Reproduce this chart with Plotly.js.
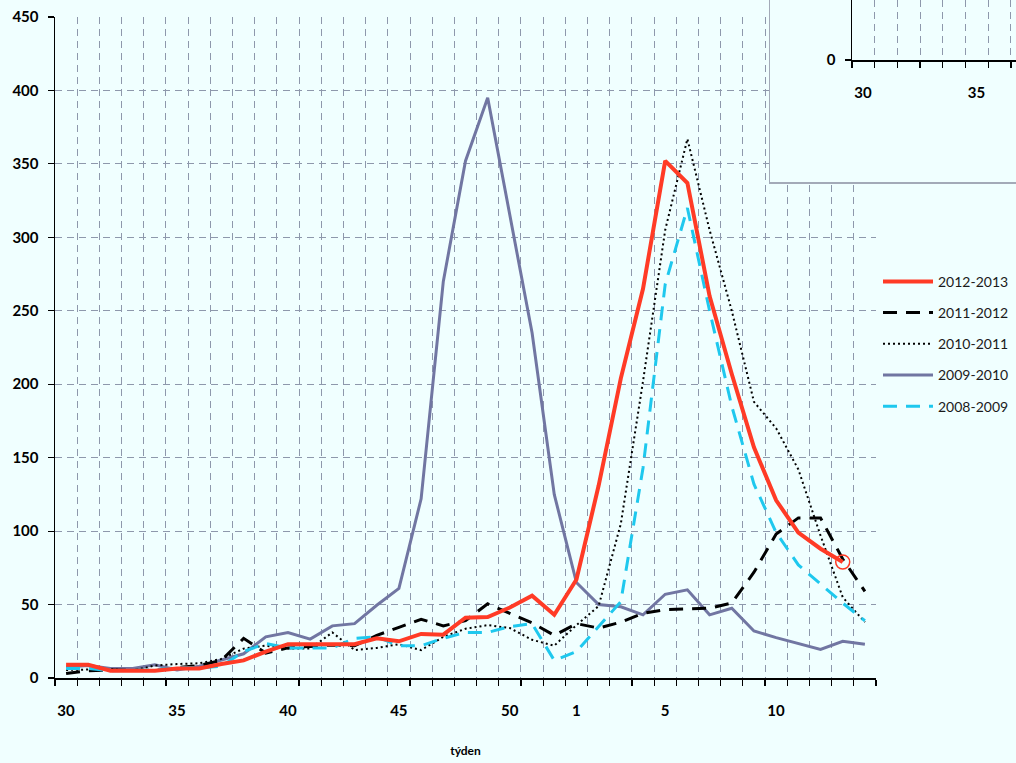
<!DOCTYPE html>
<html>
<head>
<meta charset="utf-8">
<script src="https://cdn.plot.ly/plotly-3.0.1.min.js"></script>
<style>
html,body{margin:0;padding:0;background:#F0FFFF;}
#chart{width:1016px;height:763px;}
</style>
</head>
<body>
<div id="chart"></div>
<script>
// ---- data (weeks 30..52 of one year, then 1..14 of the next) ----
const weeks = [30,31,32,33,34,35,36,37,38,39,40,41,42,43,44,45,46,47,48,49,50,51,52,1,2,3,4,5,6,7,8,9,10,11,12,13,14];
const xTickLabels = ['30','35','40','45','50','1','5','10'];
const insetTickLabels = ['30','35'];
const insetWeeks = [30,31,32,33,34,35,36,37];

const s2012_2013 = [9,9,5,5,5,6.5,6.5,9.5,12,18,23,23,23,23,27,25,30,29.5,41,41.5,48,56,43,67,131,204,265,352,337,260,207,157,121,99,88,79,null];
const s2011_2012 = [3,5,5.5,5,5,7,8.5,12,27,17,20.5,21.5,22.5,22,29,34.5,40,35.5,39,50.5,44,37.5,29,37,34,38,44,46.5,47,47.5,51,72,98,109,109,81,59];
const s2010_2011 = [5.5,6,6,5,8.5,9.5,10,13,20,22,20,20,31,19,20.5,23,19,28,33.5,36,34,26,22,36,49,105,202,305,367,305,250,188,170,142,97,55,38];
const s2009_2010 = [7.5,8.5,6.5,6.5,9,5.5,8,12,16.5,28,31,26.5,35.5,37,49.5,61,122,270,352,395,316,235,125,65,50,48.5,43,57,60,43,47.5,32,27.5,23.5,19.5,25,23];
const s2008_2009 = [6.5,6.5,5,5.5,5.5,7,7,8,18,23.5,20.5,20.5,20.5,27,28,22,22,27,31,31,35,37,12,18,35,52,143,268,320,250,185,132,99,77,64,51,39];

const seriesNames = ['2012-2013','2011-2012','2010-2011','2009-2010','2008-2009'];
const yTickVals = [0,50,100,150,200,250,300,350,400,450];

// ---- helpers ----
const xIdx = weeks.map((w,i)=>i);
const boundaries = weeks.map((w,i)=>i-0.5).concat([weeks.length-0.5]);
const boundaryText = boundaries.map((b,k)=> (k<weeks.length && xTickLabels.indexOf(String(weeks[k]))>=0) ? String(weeks[k]) : '');
const insetBounds = insetWeeks.map((w,i)=>i-0.5);
const insetText = insetBounds.map((b,k)=> insetTickLabels.indexOf(String(insetWeeks[k]))>=0 ? String(insetWeeks[k]) : '');

const BG = '#F0FFFF';
const GRID = '#8E98AC';
const FONT = 'Lato, "Liberation Sans", Arial, sans-serif';
const tickFont = {family:FONT, size:15, color:'#000', weight:'bold'};

const lastRed = s2012_2013.reduce((a,v,i)=> v!=null ? i : a, 0);

const traces = [
  {x:xIdx, y:s2009_2010, name:seriesNames[3], legendgroup:'d', legendrank:4, mode:'lines',
   line:{color:'#7176A2', width:3}},
  {x:xIdx, y:s2011_2012, name:seriesNames[1], legendgroup:'b', legendrank:2, mode:'lines',
   line:{color:'#000000', width:3, dash:'14px,9px'}},
  {x:xIdx, y:s2010_2011, name:seriesNames[2], legendgroup:'c', legendrank:3, mode:'lines',
   line:{color:'#000000', width:2, dash:'2px,3px'}},
  {x:xIdx, y:s2008_2009, name:seriesNames[4], legendgroup:'e', legendrank:5, mode:'lines',
   line:{color:'#1EC8EE', width:3, dash:'14px,9px'}},
  {x:xIdx, y:s2012_2013, name:seriesNames[0], legendgroup:'a', legendrank:1, mode:'lines',
   line:{color:'#FF3B26', width:4}},
  {x:[xIdx[lastRed]], y:[s2012_2013[lastRed]], mode:'markers', showlegend:false, hoverinfo:'skip',
   marker:{symbol:'circle-open', size:14, color:'#FF3B26', line:{width:1.5, color:'#FF3B26'}}},
  // empty traces that create the inset frame and the inset axes
  {x:[null], y:[null], xaxis:'x2', yaxis:'y2', mode:'lines', showlegend:false, hoverinfo:'skip'},
  {x:[null], y:[null], xaxis:'x3', yaxis:'y3', mode:'lines', showlegend:false, hoverinfo:'skip'}
];

const layout = {
  width:1016, height:763,
  paper_bgcolor:BG, plot_bgcolor:BG,
  margin:{l:55, r:0, t:0, b:85},
  showlegend:true,
  legend:{x:0.8564, xanchor:'left', y:0.608, yanchor:'top', bgcolor:'rgba(0,0,0,0)',
          font:{family:FONT, size:14, color:'#1a1a1a'},
          tracegroupgap:10, itemwidth:50},
  xaxis:{domain:[0, 821/961], range:[-0.5, weeks.length-0.5], type:'linear',
         tickmode:'array', tickvals:boundaries, ticktext:boundaryText,
         ticklabelshift:11, ticklabelstandoff:12,
         ticks:'outside', ticklen:6, tickcolor:'#000', tickwidth:1.2,
         showline:true, linecolor:'#000', linewidth:1.5,
         showgrid:true, gridcolor:GRID, gridwidth:1, griddash:'7px,5px',
         zeroline:false, tickfont:tickFont,
         title:{text:'týden', font:{family:FONT, size:12, color:'#000', weight:'bold'}, standoff:29}},
  yaxis:{domain:[0, 661/678], range:[0,450], tickmode:'array', tickvals:yTickVals,
         ticks:'outside', ticklen:6, tickcolor:'#000', tickwidth:1.2, ticklabelstandoff:6,
         showline:true, linecolor:'#000', linewidth:1.5,
         showgrid:true, gridcolor:GRID, gridwidth:1, griddash:'7px,5px',
         zeroline:false, tickfont:tickFont},
  // frame of the inset (covers the main chart)
  xaxis2:{domain:[(770-55)/961, 1], range:[0,1], anchor:'y2', showgrid:false, zeroline:false,
          showticklabels:false, ticks:'', showline:true, linecolor:'#A3AAB8', linewidth:1.5, fixedrange:true},
  yaxis2:{domain:[(678-182)/678, 1], range:[0,1], anchor:'x2', showgrid:false, zeroline:false,
          showticklabels:false, ticks:'', showline:true, linecolor:'#A3AAB8', linewidth:1.5, fixedrange:true},
  // inset axes
  xaxis3:{domain:[(852-55)/961, 1], range:[-0.5, -0.5 + (1016-852)/22.7], anchor:'y3', type:'linear',
          tickmode:'array', tickvals:insetBounds, ticktext:insetText,
          ticklabelshift:11, ticklabelstandoff:12,
          ticks:'outside', ticklen:6, tickcolor:'#000', tickwidth:1.2,
          showline:true, linecolor:'#000', linewidth:1.5,
          showgrid:true, gridcolor:GRID, gridwidth:1, griddash:'7px,5px',
          zeroline:false, tickfont:tickFont},
  yaxis3:{domain:[(678-60)/678, 1], range:[0,10], anchor:'x3', tickmode:'array', tickvals:[0], ticktext:['0'],
          ticks:'outside', ticklen:6, tickcolor:'#000', tickwidth:1.2, ticklabelstandoff:6,
          showline:true, linecolor:'#000', linewidth:1.5, showgrid:false, zeroline:false, tickfont:tickFont}
};

Plotly.newPlot('chart', traces, layout, {displayModeBar:false, staticPlot:true});
</script>
</body>
</html>
